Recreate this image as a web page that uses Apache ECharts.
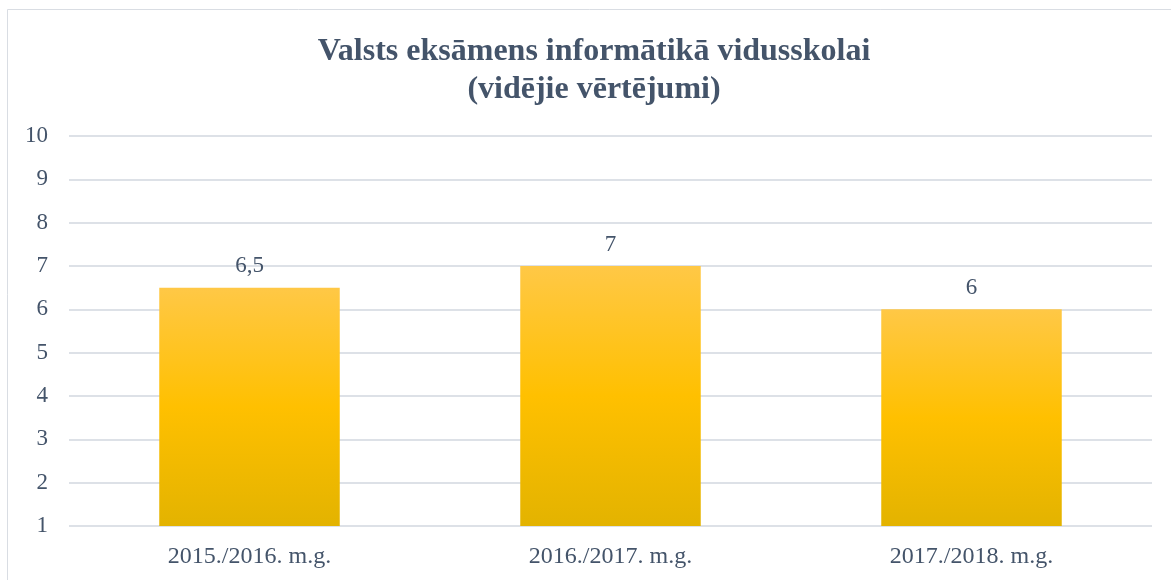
<!DOCTYPE html>
<html>
<head>
<meta charset="utf-8">
<script src="https://cdn.jsdelivr.net/npm/echarts@6/dist/echarts.min.js"></script>
<style>
  html, body { margin: 0; padding: 0; background: #fff; }
  #chart { width: 1171px; height: 580px; }
</style>
</head>
<body>
<div id="chart"></div>
<script>
// dati
var gadi = ['2015./2016. m.g.', '2016./2017. m.g.', '2017./2018. m.g.']
var vertejumi = [6.5, 7, 6]
var virsraksts = 'Valsts eksāmens informātikā vidusskolai\n(vidējie vērtējumi)'

var textColor = '#44546A'
var gridColor = '#DDE1E7'

var chart = echarts.init(document.getElementById('chart'))
chart.setOption({
  backgroundColor: '#fff',
  animation: false,
  title: {
    text: virsraksts,
    left: 589, // centrs nedaudz pa labi no lapas vidus
    textAlign: 'center',
    top: 28,
    textStyle: {
      fontFamily: 'Liberation Serif',
      fontWeight: 'bold',
      fontSize: 32,
      lineHeight: 38,
      color: textColor
    }
  },
  // ramis pa kreisi un augšā
  graphic: [{
    type: 'polyline',
    shape: { points: [[7.5, 580], [7.5, 9.5], [1171, 9.5]] },
    style: { stroke: '#D9DDE3', lineWidth: 1, fill: null }
  }],
  grid: { left: 69, right: 19, top: 136, bottom: 54 },
  xAxis: {
    type: 'category',
    data: gadi,
    axisLine: { show: false },
    axisTick: { show: false },
    axisLabel: {
      margin: 19,
      fontFamily: 'Liberation Serif',
      fontSize: 24,
      color: textColor
    }
  },
  yAxis: {
    type: 'value',
    min: 1,
    max: 10,
    interval: 1,
    axisLine: { show: false },
    axisTick: { show: false },
    axisLabel: {
      margin: 21,
      fontFamily: 'Liberation Serif',
      fontSize: 23,
      color: textColor
    },
    splitLine: { lineStyle: { color: gridColor, width: 2 } }
  },
  series: [{
    type: 'bar',
    data: vertejumi,
    barWidth: '50%',
    itemStyle: {
      color: new echarts.graphic.LinearGradient(0, 0, 0, 1, [
        { offset: 0, color: '#FFC846' },
        { offset: 0.5, color: '#FFC000' },
        { offset: 1, color: '#E3B300' }
      ])
    },
    label: {
      show: true,
      position: 'top',
      distance: 10,
      fontFamily: 'Liberation Serif',
      fontSize: 23,
      color: textColor,
      formatter: function (p) {
        return String(p.value).replace('.', ',')
      }
    }
  }]
})
</script>
</body>
</html>
